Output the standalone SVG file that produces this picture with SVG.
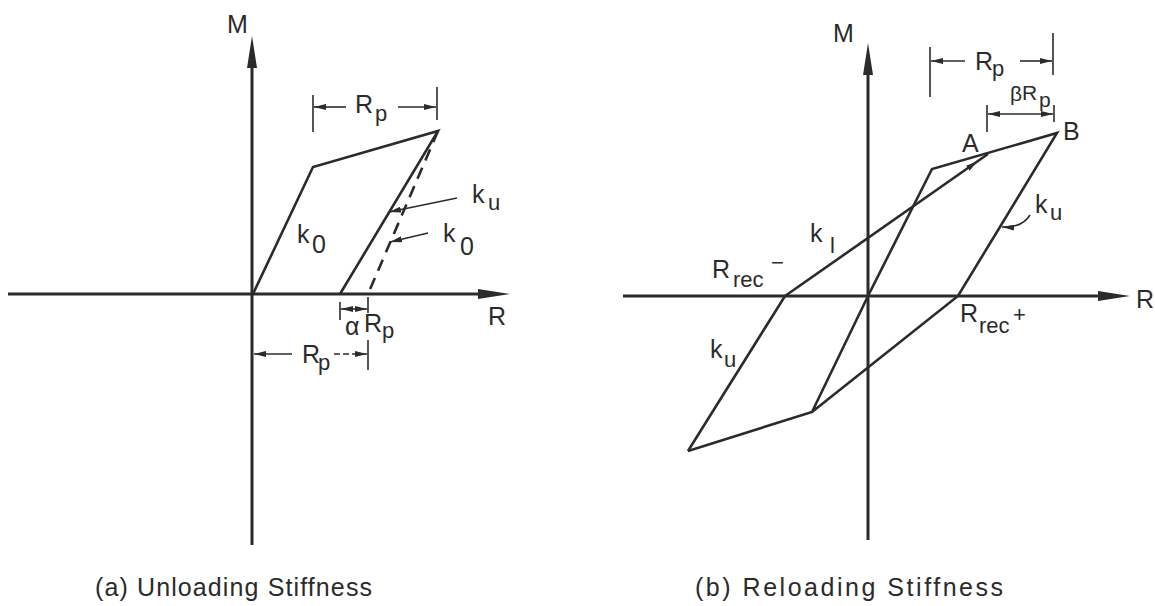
<svg xmlns="http://www.w3.org/2000/svg" width="1155" height="606" viewBox="0 0 1155 606">
<style>
 .ax{stroke:#2b2b2b;stroke-width:3;fill:none}
 .cv{stroke:#2b2b2b;stroke-width:2.6;fill:none;stroke-linejoin:miter}
 .dash{stroke-dasharray:12 8}
 .dim{stroke:#2b2b2b;stroke-width:1.6;fill:none}
 .dd{stroke-dasharray:6 3}
 text{font-family:"Liberation Sans",Arial,sans-serif;fill:#2b2b2b}
 .lb{font-size:25px}
 .sb{font-size:22px}
 .ss{font-size:21px}
 .cap{font-size:25px}
</style>
<defs>
 <marker id="ah" viewBox="0 0 32 10" refX="12" refY="5" markerWidth="32" markerHeight="10" markerUnits="userSpaceOnUse" orient="auto"><path d="M0,0 L32,5 L0,10 Z" fill="#2b2b2b"/></marker>
 <marker id="sh" viewBox="0 0 12 6" refX="12" refY="3" markerWidth="12" markerHeight="6" markerUnits="userSpaceOnUse" orient="auto-start-reverse"><path d="M0,0 L12,3 L0,6 Z" fill="#2b2b2b"/></marker>
</defs>

<!-- Panel (a) -->
<g id="panel-a">
 <g id="a-axes">
  <line class="ax" x1="252" y1="545" x2="252" y2="56" marker-end="url(#ah)"/>
  <line class="ax" x1="8" y1="294" x2="490" y2="294" marker-end="url(#ah)"/>
 </g>
 <g id="a-curve">
  <polyline class="cv" points="253,294 313,167 438,131 340,294"/>
  <line class="cv dash" x1="438" y1="131" x2="368" y2="294"/>
 </g>
 <g id="a-connectors">
  <line class="dim" x1="457" y1="198" x2="389" y2="212" marker-end="url(#sh)"/>
  <line class="dim" x1="428" y1="233" x2="390" y2="242" marker-end="url(#sh)"/>
 </g>
 <g id="a-dims">
  <line class="dim" x1="313" y1="95" x2="313" y2="132"/>
  <line class="dim" x1="437" y1="87" x2="437" y2="120"/>
  <line class="dim" x1="346" y1="107" x2="314" y2="107" marker-end="url(#sh)"/>
  <line class="dim" x1="398" y1="107" x2="436" y2="107" marker-end="url(#sh)"/>
  <line class="dim" x1="340" y1="302" x2="340" y2="320"/>
  <line class="dim" x1="368" y1="297" x2="368" y2="313"/>
  <line class="dim" x1="368" y1="340" x2="368" y2="370"/>
  <line class="dim" x1="341" y1="309" x2="367" y2="309" marker-start="url(#sh)" marker-end="url(#sh)"/>
  <line class="dim" x1="292" y1="354" x2="254" y2="354" marker-end="url(#sh)"/>
  <line class="dim dd" x1="334" y1="354" x2="367" y2="354" marker-end="url(#sh)"/>
 </g>
 <g id="a-labels">
  <text class="lb" x="227" y="33">M</text>
  <text class="lb" x="488" y="325">R</text>
  <text class="lb" x="355" y="113">R</text><text class="sb" x="375" y="121">p</text>
  <text class="lb" x="297" y="243">k</text><text class="lb" x="312" y="253">0</text>
  <text class="lb" x="472" y="203">k</text><text class="sb" x="488" y="210">u</text>
  <text class="lb" x="443" y="242">k</text><text class="lb" x="460" y="255">0</text>
  <text class="lb" x="345" y="335">α</text><text class="lb" x="364" y="332">R</text><text class="sb" x="382" y="338">p</text>
  <text class="lb" x="302" y="363">R</text><text class="sb" x="318" y="370">p</text>
 </g>
 <text id="caption-a" class="cap" x="95" y="596" textLength="277" lengthAdjust="spacing">(a) Unloading Stiffness</text>
</g>

<!-- Panel (b) -->
<g id="panel-b">
 <g id="b-axes">
  <line class="ax" x1="868" y1="540" x2="868" y2="63" marker-end="url(#ah)"/>
  <line class="ax" x1="623" y1="296" x2="1110" y2="296" marker-end="url(#ah)"/>
 </g>
 <g id="b-curve">
  <polyline class="cv" points="688,451 812,412 868,296 932,169 1057,133 958,296 812,412"/>
  <polyline class="cv" points="688,451 785,296"/>
  <path class="cv" d="M785,296 L977.6,161.3 L988,154" marker-mid="url(#sh)"/>
 </g>
 <g id="b-connectors">
  <path class="dim" d="M1030,215 Q1022,228 1002,227" marker-end="url(#sh)"/>
 </g>
 <g id="b-dims">
  <line class="dim" x1="930" y1="47" x2="930" y2="97"/>
  <line class="dim" x1="1053" y1="33" x2="1053" y2="75"/>
  <line class="dim" x1="965" y1="61" x2="931" y2="61" marker-end="url(#sh)"/>
  <line class="dim" x1="1020" y1="61" x2="1052" y2="61" marker-end="url(#sh)"/>
  <line class="dim" x1="987" y1="105" x2="987" y2="132"/>
  <line class="dim" x1="1054" y1="105" x2="1054" y2="122"/>
  <line class="dim" x1="988" y1="114" x2="1053" y2="114" marker-start="url(#sh)" marker-end="url(#sh)"/>
 </g>
 <g id="b-labels">
  <text class="lb" x="833" y="42">M</text>
  <text class="lb" x="1136" y="308">R</text>
  <text class="lb" x="975" y="70">R</text><text class="sb" x="992" y="76">p</text>
  <text class="ss" x="1010" y="101">β</text><text class="ss" x="1022" y="100">R</text><text class="ss" x="1039" y="107">p</text>
  <text class="lb" x="1063" y="140">B</text>
  <text class="lb" x="962" y="152">A</text>
  <text class="lb" x="810" y="242">k</text><text class="sb" x="830" y="253">l</text>
  <text class="lb" x="712" y="278">R</text><text class="sb" x="733" y="287">rec</text><text class="sb" x="771" y="270">−</text>
  <text class="lb" x="960" y="322">R</text><text class="sb" x="979" y="333">rec</text><text class="sb" x="1013" y="322">+</text>
  <text class="lb" x="1035" y="213">k</text><text class="sb" x="1050" y="220">u</text>
  <text class="lb" x="710" y="358">k</text><text class="sb" x="724" y="367">u</text>
 </g>
 <text id="caption-b" class="cap" x="695" y="596" textLength="308" lengthAdjust="spacing">(b) Reloading Stiffness</text>
</g>
</svg>
